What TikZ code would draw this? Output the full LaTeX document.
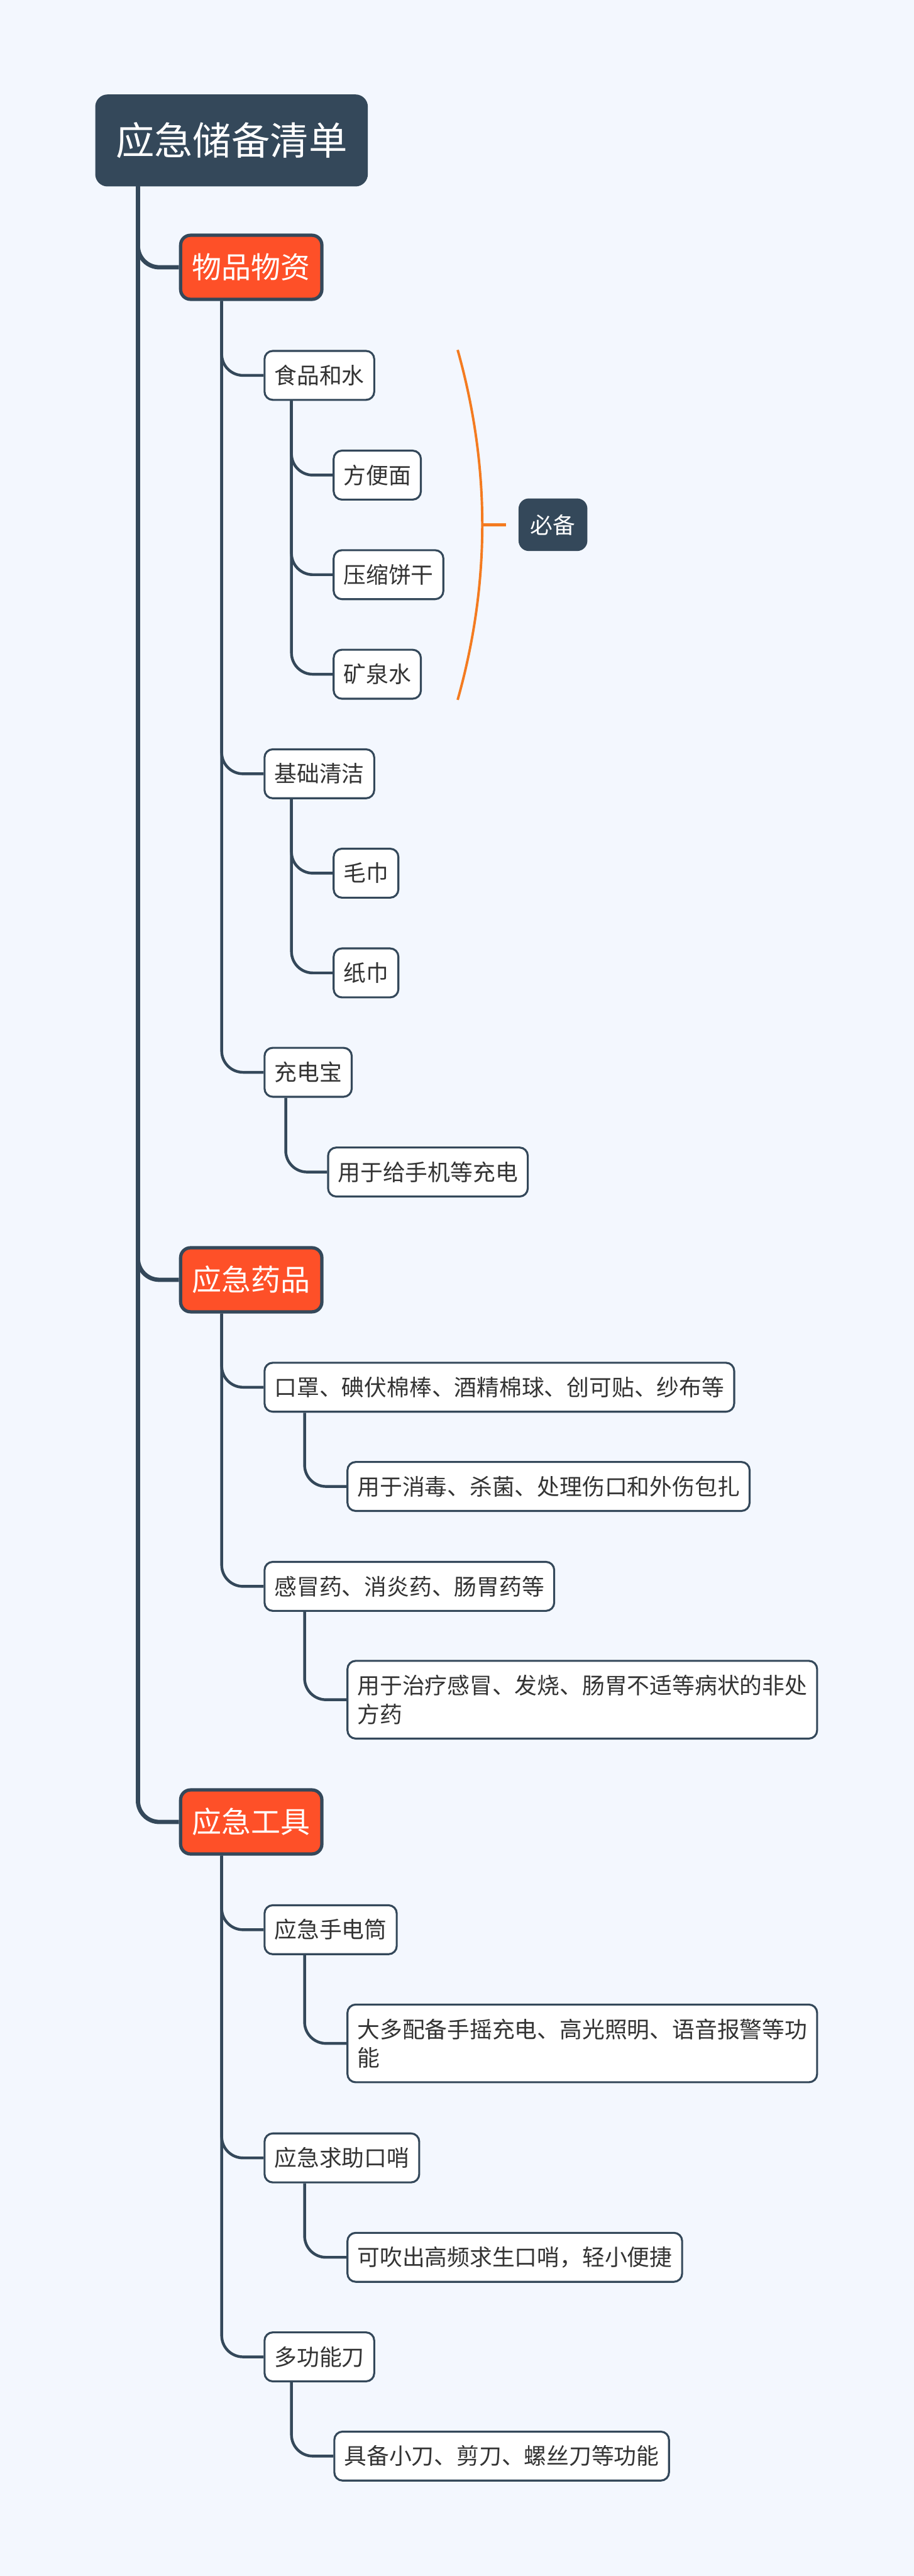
\documentclass[tikz,border=0pt]{standalone}
\usepackage{fontspec}
\newfontfamily\cjk{Noto Sans CJK SC}
\usetikzlibrary{calc}
\definecolor{bg}{RGB}{243,247,254}
\definecolor{dark}{RGB}{52,72,90}
\definecolor{org}{RGB}{254,80,40}
\definecolor{brk}{RGB}{244,123,32}
\definecolor{txt}{RGB}{51,51,51}
\begin{document}
\begin{tikzpicture}[x=1pt,y=-1pt,
  rootbox/.style={draw=dark, fill=dark, line width=1pt, rounded corners=7pt, text=white,
    font=\cjk\fontsize{23.5}{28}\selectfont, minimum height=55pt, inner xsep=12pt, inner ysep=0pt, anchor=west},
  topicbox/.style={draw=dark, fill=org, line width=2pt, rounded corners=6pt, text=white,
    font=\cjk\fontsize{18}{22}\selectfont, minimum height=39pt, inner xsep=7pt, inner ysep=0pt, anchor=west},
  itembox/.style={draw=dark, fill=white, line width=1.2pt, rounded corners=5pt, text=txt,
    font=\cjk\fontsize{13.7}{17.5}\selectfont, minimum height=29.8pt, inner xsep=6pt, inner ysep=0pt,
    anchor=west, align=left},
  tagbox/.style={draw=dark, fill=dark, line width=0.5pt, rounded corners=6pt, text=white,
    font=\cjk\fontsize{13.7}{17.5}\selectfont, minimum height=31.5pt, inner xsep=7pt, inner ysep=0pt, anchor=west},
  trunk/.style={draw=dark, line width=2.6pt, rounded corners=13pt},
  branch/.style={draw=dark, line width=1.7pt, rounded corners=13pt},
  bracket/.style={draw=brk, line width=1.5pt},
]
\fill[bg] (0,0) rectangle (556.5,1568);
\useasboundingbox (0,0) rectangle (556.5,1568);

% root
\node[rootbox] (root) at (58,85.5) {应急储备清单};

% level 1
\node[topicbox] (goods) at (109,162.7) {物品物资};
\node[topicbox] (meds) at (109,779) {应急药品};
\node[topicbox] (tools) at (109,1109) {应急工具};

% level 2
\node[itembox] (food) at (160.5,228.5) {食品和水};
\node[itembox] (clean) at (160.5,471) {基础清洁};
\node[itembox] (power) at (160.5,652.7) {充电宝};
\node[itembox] (mask) at (160.5,844.4) {口罩、碘伏棉棒、酒精棉球、创可贴、纱布等};
\node[itembox] (cold) at (160.5,965.6) {感冒药、消炎药、肠胃药等};
\node[itembox] (torch) at (160.5,1174.6) {应急手电筒};
\node[itembox] (whistle) at (160.5,1313.5) {应急求助口哨};
\node[itembox] (knife) at (160.5,1434.6) {多功能刀};

% level 3
\node[itembox] (noodle) at (202.6,289.2) {方便面};
\node[itembox] (biscuit) at (202.6,349.8) {压缩饼干};
\node[itembox] (water) at (202.6,410.4) {矿泉水};
\node[itembox] (towel) at (202.6,531.5) {毛巾};
\node[itembox] (tissue) at (202.6,592.2) {纸巾};
\node[itembox] (phone) at (199.2,713.4) {用于给手机等充电};
\node[itembox] (disinfect) at (211,904.8) {用于消毒、杀菌、处理伤口和外伤包扎};
\node[itembox, minimum height=47.3pt] (treat) at (211,1034.6) {用于治疗感冒、发烧、肠胃不适等病状的非处\\方药};
\node[itembox, minimum height=47.3pt] (charge) at (211,1243.8) {大多配备手摇充电、高光照明、语音报警等功\\能};
\node[itembox] (blow) at (211,1374) {可吹出高频求生口哨，轻小便捷};
\node[itembox] (multi) at (203,1495) {具备小刀、剪刀、螺丝刀等功能};

% summary tag
\node[tagbox] (must) at (315.8,319.4) {必备};

% main trunk
\draw[trunk] ($(root.south west)+(26,0)$) |- (goods.west);
\draw[trunk] ($(root.south west)+(26,0)$) |- (meds.west);
\draw[trunk] ($(root.south west)+(26,0)$) |- (tools.west);

% level 1 -> level 2
\foreach \p/\c in {goods/food, goods/clean, goods/power, meds/mask, meds/cold, tools/torch, tools/whistle, tools/knife}
  \draw[branch] ($(\p.south west)+(26,0)$) |- (\c.west);

% level 2 -> level 3
\foreach \c in {noodle, biscuit, water}
  \draw[branch] ($(food.south west)+(17,0)$) |- (\c.west);
\foreach \c in {towel, tissue}
  \draw[branch] ($(clean.south west)+(17,0)$) |- (\c.west);
\draw[branch] ($(power.south west)+(13.5,0)$) |- (phone.west);
\draw[branch] ($(mask.south west)+(25,0)$) |- (disinfect.west);
\draw[branch] ($(cold.south west)+(25,0)$) |- (treat.west);
\draw[branch] ($(torch.south west)+(25,0)$) |- (charge.west);
\draw[branch] ($(whistle.south west)+(25,0)$) |- (blow.west);
\draw[branch] ($(knife.south west)+(17,0)$) |- (multi.west);

% bracket summary
\coordinate (btop) at (278.7,213);
\coordinate (bbot) at (278.7,426);
\coordinate (bmid) at (293.7,319.4);
\coordinate (tickend) at ($(must.west)+(-7.7,0)$);
\draw[bracket] (btop) .. controls (298.7,284) and (298.7,355) .. (bbot);
\draw[bracket, line width=1.7pt] (bmid) -- (tickend);
\end{tikzpicture}
\end{document}
